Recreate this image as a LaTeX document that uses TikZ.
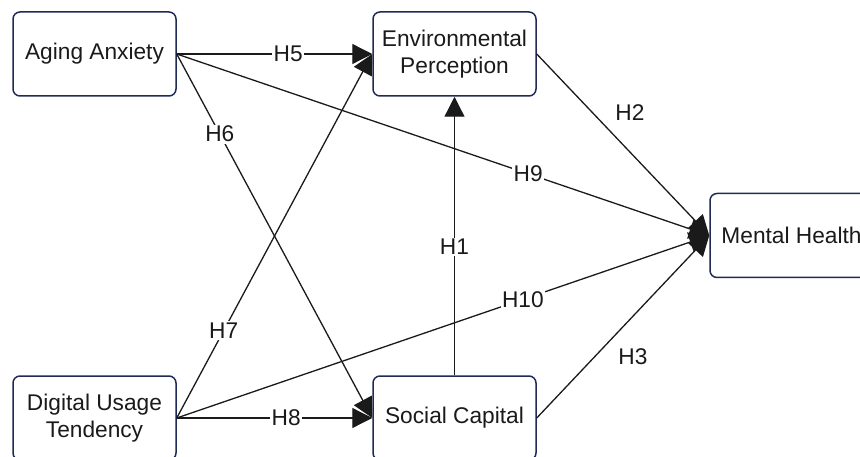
\documentclass[tikz,border=0pt]{standalone}
\usepackage{fontspec}
\setmainfont{Liberation Sans}
\usetikzlibrary{arrows.meta}
\definecolor{boxline}{HTML}{1F2A55}
\definecolor{ink}{HTML}{1A1A1A}
\begin{document}
\begin{tikzpicture}[x=1pt,y=-1pt,
  construct/.style={draw=boxline, line width=1.5pt, rounded corners=7pt,
    minimum width=163pt, minimum height=84pt, align=center, text=ink,
    font=\fontsize{22.7}{27}\selectfont, inner sep=0pt},
  path/.style={draw=ink, line width=1.3pt, -{Triangle[length=20pt,width=20pt]}},
  hyp/.style={fill=white, inner sep=1.5pt, text=ink, font=\fontsize{22.7}{27}\selectfont},
  hypfree/.style={inner sep=0pt, text=ink, font=\fontsize{22.7}{27}\selectfont}]
  \useasboundingbox (0,0) rectangle (860,457);

  % constructs
  \node[construct] (aa) at (94.5,54) {Aging Anxiety};
  \node[construct] (ep) at (454.5,54) {Environmental\\Perception};
  \node[construct] (mh) at (791.5,235.5) {Mental Health};
  \node[construct] (du) at (94.5,418) {Digital Usage\\Tendency};
  \node[construct] (sc) at (454.5,418) {Social Capital};

  % hypothesised paths
  \draw[path] (aa.east) -- node[hyp, pos=0.57] {H5} (ep.west);
  \draw[path] (aa.east) -- node[hyp, pos=0.22] {H6} (sc.west);
  \draw[path] (du.east) -- node[hyp, pos=0.24] {H7} (ep.west);
  \draw[path] (du.east) -- node[hyp, pos=0.56] {H8} (sc.west);
  \draw[path] (aa.east) -- node[hyp, pos=0.66] {H9} (mh.west);
  \draw[path] (du.east) -- node[hyp, pos=0.65] {H10} (mh.west);
  \draw[path] (sc.north) -- node[hyp, pos=0.46] {H1} (ep.south);
  \draw[path] (ep.east) -- node[hypfree, pos=0.5, xshift=7pt, yshift=32.5pt] {H2} (mh.west);
  \draw[path] (sc.east) -- node[hypfree, pos=0.5, xshift=10pt, yshift=-29.5pt] {H3} (mh.west);
\end{tikzpicture}
\end{document}
